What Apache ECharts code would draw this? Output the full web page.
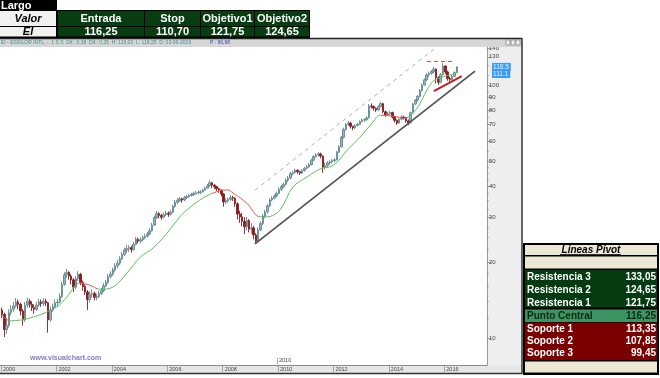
<!DOCTYPE html>
<html>
<head>
<meta charset="utf-8">
<script src="https://cdn.jsdelivr.net/npm/echarts@6/dist/echarts.min.js"></script>
<style>
html, body { margin: 0; padding: 0; background: #fff; }
#chart { width: 660px; height: 378px; }
</style>
</head>
<body>
<div id="chart"></div>
<script>
// monthly candles, Jan 2000 .. Jun 2016
const firstOpen = 12.9
const closes = [
  12.4, 10.8, 11.2, 12.6, 13.0, 13.4, 13.9, 13.6, 12.8, 11.8, 13.5, 14.0,
  13.6, 13.2, 13.0, 13.5, 13.9, 13.7, 14.0, 13.8, 11.8, 12.9, 13.3, 13.8,
  13.9, 14.6, 16.3, 17.8, 18.2, 17.6, 17.0, 15.9, 17.2, 17.9, 16.6, 16.0,
  15.2, 14.2, 14.9, 15.0, 14.5, 14.6, 15.0, 15.4, 16.1, 16.6, 17.5, 17.9,
  18.6, 19.3, 19.8, 20.6, 21.4, 22.3, 22.6, 22.8, 22.4, 23.5, 24.6, 24.2,
  24.5, 25.0, 25.3, 25.8, 26.6, 28.0, 30.0, 31.1, 30.6, 30.1, 30.8, 31.2,
  30.9, 31.5, 33.2, 34.5, 35.0, 35.6, 35.2, 36.0, 36.3, 36.7, 37.0, 37.4,
  37.6, 37.8, 37.9, 38.5, 39.2, 40.0, 41.2, 40.3, 39.8, 39.0, 38.6, 37.2,
  34.6, 35.0, 35.4, 36.0, 35.8, 34.0, 31.0, 30.2, 29.0, 27.6, 29.2, 27.0,
  27.3, 25.6, 24.2, 26.8, 28.4, 30.4, 31.6, 33.4, 35.2, 35.8, 36.5, 37.4,
  38.8, 39.8, 40.6, 42.2, 43.0, 44.8, 45.2, 46.2, 45.6, 45.0, 46.0, 47.0,
  47.6, 48.6, 50.6, 52.4, 53.2, 53.6, 52.6, 47.5, 48.2, 49.4, 49.8, 50.4,
  50.8, 54.4, 57.2, 62.4, 67.0, 70.1, 71.0, 69.0, 68.0, 69.4, 70.2, 72.0,
  73.0, 73.2, 74.5, 83.0, 82.6, 81.4, 80.0, 82.5, 84.8, 78.8, 76.5, 77.4,
  78.2, 75.0, 72.8, 71.0, 73.6, 75.0, 74.6, 72.5, 71.2, 78.0, 84.5, 87.5,
  90.5, 95.5, 100.5, 105.4, 110.2, 111.8, 113.5, 116.2, 107.5, 103.0, 110.4, 119.5,
  113.2, 106.5, 105.8, 108.8, 112.5, 118.5
]
const highs = [
  13.2, 12.6, 12.0, 13.0, 13.5, 13.9, 14.4, 14.2, 13.8, 13.0, 13.9, 14.5,
  14.3, 14.0, 13.6, 13.9, 14.3, 14.2, 14.4, 14.3, 13.9, 13.3, 13.7, 14.2,
  14.3, 15.0, 16.7, 18.2, 18.8, 18.4, 17.9, 17.3, 17.6, 18.4, 18.1, 16.9,
  16.3, 15.5, 15.3, 15.6, 15.3, 15.0, 15.4, 15.8, 16.5, 17.0, 17.9, 18.4,
  19.0, 19.8, 20.4, 21.1, 21.9, 22.8, 23.4, 23.3, 23.2, 24.0, 25.1, 25.0,
  25.1, 25.5, 25.9, 26.3, 27.2, 28.6, 30.5, 31.8, 31.5, 31.0, 31.4, 31.9,
  31.7, 32.1, 33.8, 35.2, 35.8, 36.2, 36.0, 36.5, 36.9, 37.3, 37.6, 38.0,
  38.2, 38.4, 38.6, 39.1, 39.8, 40.8, 42.2, 41.6, 40.7, 40.1, 39.4, 38.8,
  37.4, 35.8, 36.0, 36.8, 36.6, 36.1, 34.5, 31.9, 31.3, 30.1, 30.2, 29.6,
  28.5, 27.8, 26.0, 27.4, 29.0, 31.0, 32.2, 34.0, 35.8, 36.4, 37.1, 38.0,
  39.5, 40.4, 41.3, 42.9, 43.8, 45.5, 46.0, 46.9, 46.6, 46.0, 46.7, 47.6,
  48.4, 49.3, 51.3, 53.0, 54.0, 54.4, 54.2, 52.8, 49.5, 50.2, 50.6, 51.2,
  51.6, 55.1, 58.0, 63.2, 68.1, 71.0, 72.4, 71.4, 69.3, 70.3, 71.1, 72.8,
  74.0, 74.1, 75.6, 84.5, 85.0, 83.4, 81.8, 83.6, 86.2, 85.3, 79.5, 78.6,
  79.6, 78.8, 75.4, 73.4, 74.3, 76.2, 76.0, 75.1, 73.4, 78.8, 85.3, 88.4,
  91.8, 96.8, 101.8, 106.8, 112.0, 113.6, 115.2, 118.6, 116.8, 108.8, 112.0, 123.0,
  120.2, 114.4, 108.4, 110.2, 113.8, 119.0
]
const lows = [
  12.0, 10.1, 10.4, 11.0, 12.3, 12.7, 13.2, 13.0, 12.3, 11.2, 11.6, 13.2,
  13.2, 12.8, 12.5, 12.8, 13.3, 13.3, 13.4, 13.4, 10.5, 11.6, 12.7, 13.1,
  13.4, 13.7, 14.4, 16.1, 17.3, 17.0, 16.3, 15.2, 15.6, 16.8, 16.2, 15.4,
  14.8, 12.9, 13.8, 14.4, 14.1, 14.1, 14.4, 14.8, 15.2, 15.9, 16.4, 17.2,
  17.6, 18.3, 18.9, 19.5, 20.4, 21.1, 21.7, 21.9, 21.8, 22.2, 23.3, 23.7,
  23.7, 24.1, 24.6, 25.0, 25.6, 26.4, 27.8, 29.6, 29.8, 29.4, 29.8, 30.4,
  30.2, 30.6, 31.3, 32.8, 33.9, 34.6, 34.3, 34.8, 35.5, 35.9, 36.3, 36.6,
  36.9, 37.0, 37.1, 37.7, 38.3, 39.1, 39.7, 39.2, 38.9, 38.2, 37.6, 36.4,
  33.1, 33.9, 34.3, 35.0, 34.9, 33.1, 29.5, 28.6, 27.7, 25.8, 26.8, 26.2,
  25.9, 24.6, 23.6, 24.0, 26.5, 28.0, 29.9, 31.1, 33.0, 34.8, 35.5, 36.2,
  37.1, 38.2, 39.3, 40.2, 41.5, 42.6, 44.1, 44.8, 44.6, 44.2, 44.6, 45.6,
  46.5, 47.3, 48.2, 50.2, 51.8, 52.3, 51.5, 45.1, 46.4, 47.5, 48.6, 49.2,
  49.6, 50.5, 54.0, 56.8, 61.6, 66.4, 69.3, 67.6, 66.5, 67.3, 68.9, 69.8,
  71.4, 71.9, 72.6, 74.0, 81.0, 79.5, 78.6, 79.4, 82.0, 77.6, 75.2, 75.6,
  76.5, 74.1, 71.4, 69.8, 70.6, 72.8, 73.4, 71.3, 69.6, 70.8, 77.5, 83.6,
  86.4, 89.8, 94.6, 99.8, 104.2, 108.0, 110.2, 111.8, 101.8, 100.6, 102.2, 109.6,
  110.8, 104.4, 103.8, 104.6, 108.0, 111.8
]

// moving average, read at a few dates
const maDates = [
  '2000-01-15', '2000-05-01', '2001-03-01', '2002-01-10', '2002-05-15', '2002-11-05',
  '2003-03-15', '2003-07-25', '2004-01-15', '2004-07-20', '2005-01-10', '2005-06-28',
  '2005-12-28', '2006-06-15', '2006-09-15', '2007-03-05', '2007-08-25', '2008-03-01',
  '2008-05-20', '2008-11-15', '2009-05-08', '2009-08-08', '2010-01-25', '2010-07-15',
  '2011-01-20', '2011-07-08', '2012-01-01', '2012-07-01', '2012-12-20', '2013-06-05',
  '2013-09-05', '2014-02-25', '2014-08-01', '2015-01-08', '2015-05-18', '2015-08-08',
  '2015-11-05', '2016-02-05', '2016-06-08'
]
const maValues = [
  12.3, 11.7, 12.1, 13.3, 14.5, 16.5,
  16.2, 15.6, 15.9, 18.1, 20.9, 22.7,
  26.0, 30.2, 32.1, 35.2, 37.5, 38.6,
  37.5, 34.2, 30.2, 30.2, 32.1, 39.6,
  43.5, 46.7, 48.3, 55.5, 62.5, 71.7,
  76.3, 75.6, 74.3, 81.5, 96.0, 104.0,
  107.0, 109.5, 111.1
]
// stretches where the average is drawn red (above price)
const maRedSpans = [
  ['1999-12-01', '2000-04-15'],
  ['2002-11-01', '2003-06-25'],
  ['2007-08-20', '2009-04-25'],
  ['2013-09-25', '2014-08-10']
]

// drawn lines
const channelTop = [['2009-03-03', 38.5], ['2015-09-06', 140.8]]
const supportLine = [['2009-03-03', 23.6], ['2017-02-10', 114]]
const redTrend = [['2015-08-17', 95.1], ['2016-08-20', 109]]
const targetLine = [['2015-05-18', 124.65], ['2016-04-26', 124.65]]
const priceMarkers = [118.5, 111.1]

const yLabels = [10, 20, 30, 40, 50, 60, 70, 80, 90, 100, 130, 140]
const yMinor = [12, 14, 16, 18, 22.5, 25, 27.5, 32.5, 35, 37.5, 42.5, 45, 47.5, 55, 65, 75, 85, 95, 110, 120]
const xYears = [2000, 2002, 2004, 2006, 2008, 2010, 2012, 2014, 2016]

// tables
const tradeHeader = ['Valor', 'Entrada', 'Stop', 'Objetivo1', 'Objetivo2']
const tradeRow = ['EI', '116,25', '110,70', '121,75', '124,65']
const pivotNames = ['Resistencia 3', 'Resistencia 2', 'Resistencia 1', 'Punto Central', 'Soporte 1', 'Soporte 2', 'Soporte 3']
const pivotValues = ['133,05', '124,65', '121,75', '116,25', '113,35', '107,85', '99,45']

const FONT = 'Liberation Sans'

// date string -> decimal year
function yr(s) {
  const d = new Date(s + 'T00:00:00Z')
  const y = d.getUTCFullYear()
  const a = Date.UTC(y, 0, 1), b = Date.UTC(y + 1, 0, 1)
  return y + (d - a) / (b - a)
}

const months = closes.map((c, i) => {
  const y = 2000 + Math.floor(i / 12)
  const m = (i % 12) + 1
  return y + '-' + String(m).padStart(2, '0') + '-15'
})
const candles = closes.map((c, i) => [yr(months[i]), i ? closes[i - 1] : firstOpen, c, lows[i], highs[i]])
const maData = maDates.map((d, i) => [yr(d), maValues[i]])

const GREEN_MA = '#5cbf5c'
const RED_MA = '#f05050'
const pieces = []
let from = null
maRedSpans.forEach(s => {
  const a = yr(s[0]), b = yr(s[1])
  pieces.push(from === null ? { lt: a, color: GREEN_MA } : { gte: from, lt: a, color: GREEN_MA })
  pieces.push({ gte: a, lt: b, color: RED_MA })
  from = b
})
pieces.push({ gte: from, color: GREEN_MA })

const seg = (pts, style) => [
  { coord: [yr(pts[0][0]), pts[0][1]], lineStyle: style },
  { coord: [yr(pts[1][0]), pts[1][1]], lineStyle: style }
]

// ---- decorations (frame, tables) ----
const g = []
function box(x, y, w, h, fill, z) {
  g.push({ type: 'rect', silent: true, z: z, shape: { x: x, y: y, width: w, height: h }, style: { fill: fill } })
}
function line(x1, y1, x2, y2, stroke, w, z) {
  g.push({ type: 'line', silent: true, z: z, shape: { x1: x1, y1: y1, x2: x2, y2: y2 }, style: { stroke: stroke, lineWidth: w } })
}
function txt(x, y, text, font, fill, align, z) {
  g.push({ type: 'text', silent: true, z: z || 12, x: x, y: y,
    style: { text: text, font: font, fill: fill, align: align || 'left', verticalAlign: 'middle' } })
}

// axis panels
box(487, 47, 35, 318, '#eeeeee', -1)
box(0, 365, 522, 8, '#e6e6e6', -1)
// title bar
box(0, 38, 522, 9, '#d6d6d6', 5)
line(0, 38.5, 522, 38.5, '#222', 1.5, 6)
txt(1, 43, 'EI - ESSILOR INTL. -  1 S S  Dif.: 0,38  Dif.: 0,35  H: 119,00  L: 118,25  D: 03-06-2016', '5px ' + FONT, '#3f8f90', 'left', 6)
txt(210, 43, 'P : 96,98', '5px ' + FONT, '#3344bb', 'left', 6)
;[506, 511, 516].forEach(x => {
  g.push({ type: 'rect', silent: true, z: 6, shape: { x: x, y: 40, width: 4, height: 5 }, style: { fill: '#eee', stroke: '#777', lineWidth: 0.6 } })
})
// window border
line(522, 38, 522, 374, '#333', 1.5, 6)
line(0, 373.5, 522, 373.5, '#333', 1.5, 6)
// watermark and cursor year
txt(30, 358, 'www.visualchart.com', 'bold 7px ' + FONT, '#8080c4', 'left', 6)
line(277.5, 358, 277.5, 364, '#777', 0.6, 6)
txt(279, 360, '2010', '5.5px ' + FONT, '#444', 'left', 6)

// trade table (top left)
const colX = [0, 57, 144, 200, 254, 309]
box(0, 0, 57, 10, '#000', 10)
txt(1, 5.5, 'Largo', 'bold 11px ' + FONT, '#fff', 'left', 12)
box(0, 10, 310, 28, '#000', 10)
tradeHeader.forEach((h, i) => {
  const x0 = colX[i] + (i ? 1 : 0), w = colX[i + 1] - colX[i] - 1
  box(x0, 11, w, 15, i ? '#073d10' : '#f1f1f1', 11)
  box(x0, 27, w, 9.5, i ? '#073d10' : '#f1f1f1', 11)
  const cx = x0 + w / 2
  txt(cx, 18.5, h, (i ? '' : 'italic ') + 'bold 11px ' + FONT, i ? '#fff' : '#000', 'center')
  txt(cx, 32, tradeRow[i], (i ? '' : 'italic ') + 'bold 11px ' + FONT, i ? '#fff' : '#000', 'center')
})

// pivot table (bottom right)
const PX = 524, PW = 134
box(PX - 1, 243, PW + 2, 132, '#000', 10)
box(PX + 1, 245, PW - 2, 10, '#ebe8d6', 11)
txt(PX + PW / 2, 250, 'Lineas Pivot', 'italic bold 10px ' + FONT, '#000', 'center')
line(PX + 36, 254.5, PX + 97, 254.5, '#000', 0.8, 12)
box(PX + 1, 256.5, PW - 2, 12, '#ebe8d6', 11)
box(PX + 1, 270, PW - 2, 37.5, '#053b10', 11)
box(PX + 1, 309.5, PW - 2, 12.5, '#3c9463', 11)
box(PX + 1, 322.5, PW - 2, 37.5, '#7a0000', 11)
box(PX + 1, 361.5, PW - 2, 11, '#ebe8d6', 11)
const pivotY = [277.5, 290, 303, 316, 329, 341.5, 353.5]
pivotNames.forEach((n, i) => {
  const col = i === 3 ? '#0f2a12' : '#fff'
  txt(PX + 3, pivotY[i], n, 'bold 10px ' + FONT, col, 'left')
  txt(PX + PW - 2, pivotY[i], pivotValues[i], 'bold 10px ' + FONT, col, 'right')
})

const chart = echarts.init(document.getElementById('chart'), null, { renderer: 'canvas' })
chart.setOption({
  animation: false,
  backgroundColor: '#ffffff',
  textStyle: { fontFamily: FONT },
  grid: { left: 0, right: 173, top: 47, bottom: 13, outerBoundsMode: 'none' },
  xAxis: {
    type: 'value',
    min: yr('1999-12-19'),
    max: yr('2017-07-18'),
    splitLine: { show: false },
    axisLine: { lineStyle: { color: '#8a8a8a', width: 1 } },
    axisTick: { customValues: xYears, length: 7, lineStyle: { color: '#777', width: 0.6 } },
    axisLabel: {
      customValues: xYears,
      formatter: v => String(v),
      align: 'left', padding: [0, 0, 0, 2], margin: 1,
      fontSize: 5.5, color: '#444'
    }
  },
  yAxis: [{
    type: 'log',
    position: 'right',
    min: 7.82,
    max: 142.1,
    splitLine: { show: false },
    axisLine: { show: true, lineStyle: { color: '#999', width: 1 } },
    axisTick: { customValues: yLabels, length: 4, lineStyle: { color: '#666', width: 0.6 } },
    axisLabel: { customValues: yLabels, margin: 2, fontSize: 6, color: '#444' }
  }, {
    type: 'log',
    position: 'right',
    min: 7.82,
    max: 142.1,
    splitLine: { show: false },
    axisLine: { show: false },
    axisTick: { customValues: yMinor, length: 1.5, lineStyle: { color: '#777', width: 0.8 } },
    axisLabel: { show: false }
  }],
  visualMap: { type: 'piecewise', show: false, seriesIndex: 1, dimension: 0, pieces: pieces },
  series: [{
    type: 'candlestick',
    clip: false,
    encode: { x: 0, y: [1, 2, 3, 4] },
    data: candles,
    barWidth: 2,
    itemStyle: { color: '#9cb4b8', color0: '#8e1b1b', borderColor: '#628a91', borderColor0: '#8e1b1b', borderWidth: 0.9 },
    markLine: {
      silent: true,
      symbol: ['none', 'none'],
      label: { show: false },
      data: [
        seg(channelTop, { color: '#b0b0b0', width: 1, type: [4, 4] }),
        seg(supportLine, { color: '#555', width: 1.8, type: 'solid' }),
        seg(redTrend, { color: '#c41c1c', width: 2, type: 'solid' }),
        seg(targetLine, { color: '#ee4444', width: 1.2, type: [4, 3] })
      ].concat(priceMarkers.map(v => ({
        yAxis: v,
        lineStyle: { color: 'rgba(0,0,0,0)', width: 1 },
        label: {
          show: true, position: 'end', distance: 5, formatter: String(v),
          backgroundColor: '#3a9cf4', color: '#e9f4ff', fontSize: 6.5, padding: [1, 2, 0, 1]
        }
      })))
    }
  }, {
    type: 'line',
    data: maData,
    smooth: 0.35,
    showSymbol: false,
    symbol: 'none',
    lineStyle: { width: 1 },
    z: 3
  }],
  graphic: { elements: g }
})
</script>
</body>
</html>
